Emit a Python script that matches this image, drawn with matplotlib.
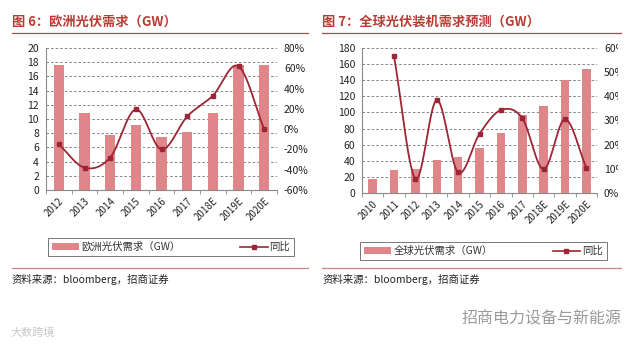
import numpy as np
import matplotlib
matplotlib.use("Agg")
from matplotlib import pyplot as plt
from matplotlib.patches import Patch
from matplotlib.lines import Line2D
from matplotlib.transforms import Bbox

plt.rcParams['font.family'] = ['Noto Sans CJK SC', 'DejaVu Sans']

# Europe PV demand (GW) and yoy (%)
eu_years = ['2012', '2013', '2014', '2015', '2016', '2017', '2018E', '2019E', '2020E']
eu_demand = [17.6, 10.8, 7.8, 9.2, 7.4, 8.2, 10.9, 17.6, 17.6]
eu_yoy = [-15, -38, -28, 19.5, -20, 12.5, 33, 62, 0]

# Global PV installation forecast (GW) and yoy (%)
gl_years = ['2010', '2011', '2012', '2013', '2014', '2015', '2016', '2017', '2018E', '2019E', '2020E']
gl_demand = [18, 29, 30, 41, 45, 56, 74.5, 97, 107.5, 140, 154]
gl_yoy = [np.nan, 56.5, 6, 38.5, 8.5, 24.5, 34.3, 31, 9.8, 30.5, 10.5]

BAR = '#DF868B'
LINE = '#9E2535'
TITLE = '#B83C34'
RULE = '#A0524E'
GRID = '#707070'
TXT = '#222222'


def smooth(x, y, n=30):
    # catmull-rom curve through the points, like excel's smoothed line
    x = np.asarray(x, float)
    y = np.asarray(y, float)
    px = np.concatenate([[2 * x[0] - x[1]], x, [2 * x[-1] - x[-2]]])
    py = np.concatenate([[2 * y[0] - y[1]], y, [2 * y[-1] - y[-2]]])
    xs, ys = [], []
    t = np.linspace(0, 1, n)
    for i in range(1, len(px) - 2):
        for p, out in ((px, xs), (py, ys)):
            p0, p1, p2, p3 = p[i - 1], p[i], p[i + 1], p[i + 2]
            out.extend(0.5 * (2 * p1 + (-p0 + p2) * t + (2 * p0 - 5 * p1 + 4 * p2 - p3) * t ** 2
                              + (-p0 + 3 * p1 - 3 * p2 + p3) * t ** 3))
    return np.array(xs), np.array(ys)


def panel(rect, cats, bars, yoy, ylim, ystep, y2lim, y2step, clip_x=None):
    ax = fig.add_axes(rect)
    x = np.arange(len(cats))
    ax.bar(x, bars, width=0.4, color=BAR, zorder=2)
    ax.set_xlim(-0.5, len(cats) - 0.5)
    ax.set_ylim(*ylim)
    ax.set_yticks(np.arange(ylim[0], ylim[1] + 0.1, ystep))
    ax.set_xticks(x)
    ax.set_xticklabels(cats, rotation=45, ha='right', rotation_mode='anchor', fontsize=7, color=TXT)
    ax.set_xticks(np.arange(-0.5, len(cats), 1), minor=True)
    ax.tick_params(axis='x', which='major', length=0, pad=4)
    ax.tick_params(axis='x', which='minor', length=3, direction='out', color='#888888')
    ax.tick_params(axis='y', length=0, labelsize=7.5, labelcolor=TXT, pad=5)
    ax.yaxis.grid(True, color=GRID, linestyle=(0, (3, 2.5)), linewidth=0.6, zorder=0)
    for s in ('left', 'bottom'):
        ax.spines[s].set_color('#888888')
        ax.spines[s].set_linewidth(0.8)
    ax.spines['top'].set_visible(False)
    ax.spines['right'].set_visible(False)
    ax.set_axisbelow(True)

    ax2 = ax.twinx()
    ax2.set_ylim(*y2lim)
    ticks = np.arange(y2lim[0], y2lim[1] + 0.1, y2step)
    ax2.set_yticks(ticks)
    ax2.set_yticklabels(['%d%%' % v for v in ticks])
    ax2.tick_params(axis='y', length=0, labelsize=7.5, labelcolor=TXT, pad=5)
    if clip_x is not None:
        # the source image cuts these labels off at its right edge
        box = Bbox([[0, 0], [clip_x, 348]])
        for lab in ax2.get_yticklabels():
            if lab.get_text() != '0%':
                lab.set_clip_box(box)
                lab.set_clip_on(True)
    for s in ax2.spines.values():
        s.set_visible(False)
    ax2.axvline(len(cats) - 0.5, color=GRID, linestyle=(0, (3, 2.5)), linewidth=0.6)
    yy = np.asarray(yoy, float)
    ok = ~np.isnan(yy)
    sx, sy = smooth(x[ok], yy[ok])
    ax2.plot(sx, sy, color=LINE, linewidth=1.3, zorder=3)
    ax2.plot(x[ok], yy[ok], 's', color=LINE, markersize=3.5, zorder=4)
    return ax


def px(l, t, r, b):
    W, H = 640, 348
    return [l / W, (H - b) / H, (r - l) / W, (b - t) / H]


fig = plt.figure(figsize=(6.4, 3.48), dpi=100)

panel(px(46, 48, 277, 190), eu_years, eu_demand, eu_yoy, (0, 20), 2, (-60, 80), 20)
panel(px(362, 48, 597, 193), gl_years, gl_demand, gl_yoy, (0, 180), 20, (0, 60), 10, clip_x=618)

# titles and rules
fig.text(12 / 640, 1 - 22 / 348, '图 6：欧洲光伏需求（GW）', fontsize=9.5, fontweight='bold',
         color=TITLE, va='center')
fig.text(322 / 640, 1 - 22 / 348, '图 7：全球光伏装机需求预测（GW）', fontsize=9.5, fontweight='bold',
         color=TITLE, va='center')
for x0, x1 in ((12, 308), (322, 621)):
    fig.add_artist(Line2D([x0 / 640, x1 / 640], [1 - 33 / 348] * 2, color=RULE, linewidth=0.9))
    fig.add_artist(Line2D([x0 / 640, x1 / 640], [1 - 268 / 348] * 2, color='#C9868A', linewidth=0.9))

# legends
for (l, t, r, b), name in (((48, 238, 294, 256), '欧洲光伏需求（GW）'),
                           ((359, 242, 608, 260), '全球光伏需求（GW）')):
    handles = [Patch(facecolor=BAR, edgecolor='none'),
               Line2D([], [], color=LINE, marker='s', markersize=3, linewidth=1.2)]
    leg = fig.legend(handles, [name, '同比'], loc='center', ncol=2, frameon=True, fancybox=False,
                     bbox_to_anchor=((l + r) / 2 / 640, 1 - (t + b) / 2 / 348),
                     fontsize=7.5, handlelength=2.6, handleheight=0.6, handletextpad=0.2,
                     columnspacing=5.8, borderpad=0.35, edgecolor='#555555')
    leg.get_frame().set_linewidth(0.7)
    for tx in leg.get_texts():
        tx.set_color('#333333')

# source notes
fig.text(12 / 640, 1 - 279 / 348, '资料来源：bloomberg，招商证券', fontsize=7.5, color=TXT, va='center')
fig.text(323 / 640, 1 - 279 / 348, '资料来源：bloomberg，招商证券', fontsize=7.5, color=TXT, va='center')

# watermarks
fig.text(462 / 640, 1 - 319 / 348, '招商电力设备与新能源', fontsize=11.5, color='#9a9a9a', va='center')
fig.text(10 / 640, 1 - 333 / 348, '大数跨境', fontsize=8, color='#c8c8c8', va='center')

fig.savefig('out.png', dpi=100)
